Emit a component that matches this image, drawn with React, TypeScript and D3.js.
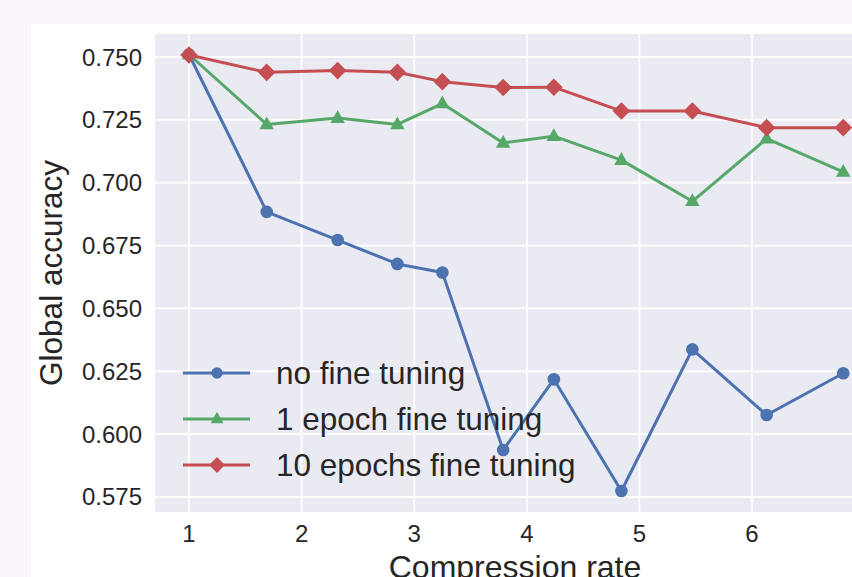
import React from "react";
import * as d3 from "d3";

const compressionRates = [1, 1.69, 2.32, 2.85, 3.25, 3.79, 4.24, 4.84, 5.47, 6.13, 6.81];
const noFineTuning = [0.751, 0.6884, 0.6772, 0.6677, 0.6643, 0.5937, 0.6218, 0.5774, 0.6337, 0.6076, 0.6242];
const oneEpoch = [0.751, 0.7232, 0.7257, 0.7232, 0.7315, 0.7158, 0.7185, 0.709, 0.6926, 0.7175, 0.7043];
const tenEpochs = [0.7508, 0.7439, 0.7446, 0.7439, 0.7402, 0.7379, 0.738, 0.7285, 0.7285, 0.7219, 0.7219];
const yTicks = [0.575, 0.6, 0.625, 0.65, 0.675, 0.7, 0.725, 0.75];
const xTicks = [1, 2, 3, 4, 5, 6];
const seriesNames = ["no fine tuning", "1 epoch fine tuning", "10 epochs fine tuning"];

const W = 852;
const H = 577;
const plot = { left: 155, right: 875, top: 34, bottom: 512 };
const FONT = "'Liberation Sans', Arial, Helvetica, sans-serif";
const TEXT = "#262626";

type Shape = "circle" | "triangle" | "diamond";

function Marker({ x, y, shape, color, s = 1 }: { x: number; y: number; shape: Shape; color: string; s?: number }) {
  if (shape === "circle") return <circle cx={x} cy={y} r={6.3 * s} fill={color} />;
  if (shape === "triangle") {
    const r = 8 * s;
    return (
      <path
        d={`M${x},${y - r} L${x + r * 0.9},${y + r * 0.6} L${x - r * 0.9},${y + r * 0.6} Z`}
        fill={color}
      />
    );
  }
  const r = 8.8 * s;
  return <path d={`M${x},${y - r} L${x + r},${y} L${x},${y + r} L${x - r},${y} Z`} fill={color} />;
}

export default function App() {
  const x = d3.scaleLinear().domain([0.698, 7.092]).range([plot.left, plot.right]);
  const y = d3.scaleLinear().domain([0.56903, 0.75915]).range([plot.bottom, plot.top]);

  const series = [
    { name: seriesNames[0], values: noFineTuning, color: "#4c72b0", shape: "circle" as Shape },
    { name: seriesNames[1], values: oneEpoch, color: "#55a868", shape: "triangle" as Shape },
    { name: seriesNames[2], values: tenEpochs, color: "#c44e52", shape: "diamond" as Shape },
  ];

  const line = d3
    .line<number>()
    .x((_, i) => x(compressionRates[i]))
    .y((d) => y(d));

  const legendRows = [373, 419, 465];

  return (
    <svg
      width={W}
      height={H}
      style={{ position: "absolute", left: 0, top: 0, display: "block" }}
      fontFamily={FONT}
    >
      <rect x={0} y={0} width={W} height={H} fill="#fbf6fb" />
      <rect x={31} y={24} width={W} height={H} fill="#ffffff" />
      <rect
        x={plot.left}
        y={plot.top}
        width={plot.right - plot.left}
        height={plot.bottom - plot.top}
        fill="#eaeaf2"
      />
      {yTicks.map((t) => (
        <line key={"gy" + t} x1={plot.left} x2={plot.right} y1={y(t)} y2={y(t)} stroke="#ffffff" strokeWidth={1.8} />
      ))}
      {xTicks.map((t) => (
        <line key={"gx" + t} x1={x(t)} x2={x(t)} y1={plot.top} y2={plot.bottom} stroke="#ffffff" strokeWidth={1.8} />
      ))}
      {yTicks.map((t) => (
        <text key={"ty" + t} x={142} y={y(t) + 8.5} textAnchor="end" fontSize={24} fill={TEXT}>
          {d3.format(".3f")(t)}
        </text>
      ))}
      {xTicks.map((t) => (
        <text key={"tx" + t} x={x(t)} y={542} textAnchor="middle" fontSize={24} fill={TEXT}>
          {t}
        </text>
      ))}
      <text x={(plot.left + plot.right) / 2} y={578} textAnchor="middle" fontSize={32} fill={TEXT}>
        Compression rate
      </text>
      <text
        transform={`translate(62,${(plot.top + plot.bottom) / 2}) rotate(-90)`}
        textAnchor="middle"
        fontSize={31.5}
        fill={TEXT}
      >
        Global accuracy
      </text>
      {series.map((s) => (
        <g key={s.name}>
          <path d={line(s.values) || ""} fill="none" stroke={s.color} strokeWidth={3} strokeLinejoin="round" />
          {s.values.map((v, i) => (
            <Marker key={i} x={x(compressionRates[i])} y={y(v)} shape={s.shape} color={s.color} />
          ))}
        </g>
      ))}
      {series.map((s, i) => (
        <g key={"lg" + s.name}>
          <line x1={183} x2={250} y1={legendRows[i]} y2={legendRows[i]} stroke={s.color} strokeWidth={3} />
          <Marker x={217} y={legendRows[i]} shape={s.shape} color={s.color} s={0.9} />
          <text x={276} y={legendRows[i] + 11} fontSize={31.5} fill={TEXT}>
            {s.name}
          </text>
        </g>
      ))}
    </svg>
  );
}
